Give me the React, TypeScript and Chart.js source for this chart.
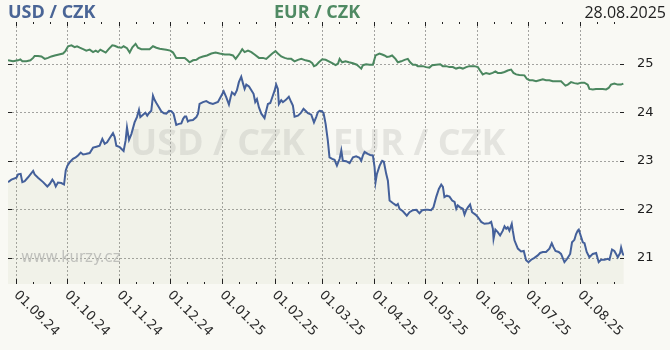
import React, { useEffect, useRef } from "react";
import { Chart, registerables } from "chart.js";
Chart.register(...registerables);

// x values are day offsets from 01.09.2024
const monthLabels = ["01.09.24", "01.10.24", "01.11.24", "01.12.24", "01.01.25", "01.02.25", "01.03.25", "01.04.25", "01.05.25", "01.06.25", "01.07.25", "01.08.25"];
const yTicks = [21, 22, 23, 24, 25];
const xMin = -5;
const xMax = 360;
const yMin = 20.46;
const yMax = 25.86;
const titleLeft = "USD / CZK";
const titleMid = "EUR / CZK";
const dateLabel = "28.08.2025";
const siteLabel = "www.kurzy.cz";

const usdDays = [-5, -3, 0, 1, 2.5, 3.5, 4.9, 6.9, 9.9, 10.8, 12.8, 15.8, 18.3, 19.7, 21.3, 22.3, 23.3, 24.6, 26.6, 28.2, 29.2, 30.2, 31.6, 33.5, 35.1, 36.5, 38.1, 39.5, 41.0, 43.4, 45.4, 47.4, 49.3, 50.9, 52.3, 53.7, 55.3, 57.2, 58.2, 59.2, 61.2, 63.5, 64.7, 65.5, 66.7, 68.1, 70.0, 71.4, 72.6, 73.4, 75.0, 76.4, 77.5, 78.5, 79.9, 80.9, 81.9, 82.9, 84.5, 85.8, 87.4, 88.8, 90.4, 91.8, 93.1, 94.7, 96.3, 97.7, 98.7, 99.7, 100.6, 101.6, 102.6, 104.6, 106.6, 107.6, 108.5, 110.5, 112.5, 114.5, 116.4, 119.4, 121.4, 122.8, 124.3, 125.9, 126.9, 127.7, 129.3, 130.6, 131.8, 133.2, 134.2, 135.2, 136.2, 137.8, 139.1, 140.5, 141.5, 142.5, 143.7, 145.1, 147.0, 148.0, 149.0, 150.4, 151.6, 153.0, 153.9, 154.9, 155.5, 156.9, 157.9, 159.5, 161.4, 162.8, 163.8, 164.8, 166.8, 168.4, 170.1, 171.3, 172.7, 174.7, 176.3, 177.6, 178.6, 179.6, 181.0, 182.0, 183.2, 184.5, 185.5, 187.1, 188.5, 189.9, 191.5, 192.5, 193.4, 195.4, 197.4, 199.4, 201.3, 203.3, 204.3, 205.3, 206.3, 208.2, 209.6, 211.2, 212.2, 212.8, 213.6, 215.2, 216.7, 217.7, 219.1, 220.1, 221.1, 223.0, 225.0, 226.0, 227.0, 229.0, 231.3, 232.9, 234.9, 236.9, 238.8, 240.4, 242.4, 243.8, 245.7, 247.1, 248.7, 250.3, 251.7, 252.7, 253.6, 255.0, 256.6, 258.2, 259.6, 260.6, 261.5, 262.9, 264.5, 265.5, 266.5, 267.5, 268.8, 270.0, 272.0, 273.4, 275.4, 277.3, 279.9, 281.3, 282.3, 282.7, 283.8, 285.2, 286.6, 288.2, 289.2, 290.2, 291.1, 292.1, 293.5, 294.1, 295.1, 297.1, 299.0, 300.6, 302.0, 303.4, 305.0, 306.9, 308.9, 310.3, 311.9, 313.8, 315.8, 317.2, 318.2, 319.4, 321.3, 322.7, 324.7, 326.1, 328.1, 329.2, 330.6, 331.6, 332.6, 333.2, 334.6, 335.6, 336.6, 337.9, 339.5, 341.5, 343.5, 345.0, 346.4, 348.4, 350.4, 351.4, 352.9, 354.3, 355.3, 356.3, 357.7, 358.3, 359.3, 359.9];
const usdRates = [22.56, 22.61, 22.65, 22.72, 22.73, 22.56, 22.58, 22.66, 22.79, 22.72, 22.65, 22.56, 22.47, 22.52, 22.61, 22.56, 22.47, 22.55, 22.54, 22.51, 22.80, 22.90, 22.97, 23.04, 23.07, 23.11, 23.17, 23.13, 23.14, 23.16, 23.27, 23.29, 23.31, 23.45, 23.35, 23.38, 23.47, 23.57, 23.49, 23.31, 23.28, 23.20, 23.42, 23.69, 23.43, 23.55, 23.79, 23.90, 24.05, 23.90, 23.95, 23.99, 23.93, 23.98, 24.03, 24.34, 24.25, 24.19, 24.10, 24.02, 23.98, 23.97, 24.03, 24.02, 23.97, 23.74, 23.76, 23.77, 23.86, 23.91, 23.91, 23.81, 23.83, 23.84, 23.90, 23.97, 24.17, 24.21, 24.23, 24.19, 24.17, 24.21, 24.34, 24.43, 24.31, 24.16, 24.31, 24.41, 24.36, 24.45, 24.62, 24.73, 24.60, 24.48, 24.57, 24.53, 24.46, 24.38, 24.21, 24.27, 24.10, 23.97, 23.88, 24.03, 24.17, 24.19, 24.31, 24.45, 24.57, 24.48, 24.17, 24.25, 24.21, 24.25, 24.32, 24.21, 24.14, 23.91, 23.93, 23.98, 24.07, 24.03, 23.98, 23.95, 23.79, 23.90, 24.00, 24.03, 24.02, 23.98, 23.76, 23.42, 23.07, 23.04, 23.02, 22.90, 23.04, 23.21, 23.00, 22.99, 22.95, 23.07, 23.09, 23.06, 23.00, 23.11, 23.18, 23.14, 23.12, 23.11, 22.87, 22.56, 22.73, 22.90, 23.00, 22.98, 22.73, 22.59, 22.18, 22.13, 22.08, 22.11, 22.01, 21.96, 21.87, 21.94, 21.98, 21.99, 21.92, 21.98, 21.99, 21.99, 21.98, 22.04, 22.25, 22.42, 22.51, 22.46, 22.25, 22.28, 22.26, 22.18, 22.15, 22.01, 22.08, 22.04, 22.01, 21.89, 21.98, 22.04, 22.10, 21.94, 21.89, 21.84, 21.74, 21.70, 21.71, 21.74, 21.60, 21.39, 21.58, 21.53, 21.46, 21.56, 21.65, 21.60, 21.63, 21.56, 21.70, 21.56, 21.36, 21.19, 21.13, 21.14, 20.95, 20.91, 20.96, 21.00, 21.05, 21.10, 21.12, 21.12, 21.19, 21.30, 21.22, 21.14, 21.12, 21.08, 20.91, 20.97, 21.08, 21.32, 21.37, 21.49, 21.56, 21.58, 21.43, 21.32, 21.30, 21.12, 21.01, 21.08, 21.10, 20.91, 20.96, 20.96, 20.98, 20.96, 21.17, 21.14, 21.08, 21.01, 21.10, 21.21, 21.08, 21.05];

const eurDays = [-5, -2, 1, 2.3, 3.5, 5.9, 8.3, 9.9, 10.8, 12.8, 14.8, 16.8, 18.7, 20.7, 22.7, 25.2, 27.6, 29.0, 30.6, 32.6, 34.5, 35.9, 37.5, 39.5, 41.4, 43.4, 45.4, 47.0, 48.3, 49.7, 51.3, 52.9, 54.9, 56.8, 58.2, 60.2, 62.2, 63.5, 65.5, 67.1, 68.7, 70.6, 72.0, 74.0, 77.0, 78.9, 80.9, 82.9, 84.9, 86.8, 88.8, 91.2, 92.8, 94.7, 97.7, 99.7, 101.0, 102.6, 104.6, 106.6, 108.2, 110.5, 112.9, 115.5, 118.0, 120.4, 123.4, 126.3, 128.3, 129.9, 131.2, 132.6, 133.8, 135.2, 137.2, 139.2, 141.1, 143.7, 146.1, 148.0, 149.6, 151.6, 153.5, 154.9, 156.9, 158.9, 160.9, 162.8, 164.8, 166.8, 168.8, 171.3, 173.7, 175.3, 176.3, 177.6, 179.2, 181.2, 183.2, 185.1, 187.1, 189.1, 190.5, 191.5, 193.0, 195.0, 197.0, 199.4, 201.7, 203.3, 204.3, 205.3, 207.2, 209.2, 211.2, 212.8, 215.1, 216.7, 218.1, 219.5, 221.1, 222.6, 224.6, 226.0, 228.0, 230.0, 231.9, 233.3, 234.9, 236.5, 237.8, 240.8, 242.8, 244.7, 246.3, 248.7, 251.1, 252.6, 254.6, 256.6, 258.6, 260.5, 262.5, 264.5, 266.5, 268.4, 271.4, 273.4, 274.7, 276.3, 278.3, 280.3, 282.2, 283.8, 285.2, 287.2, 289.2, 291.1, 293.1, 294.5, 296.1, 298.0, 301.0, 302.4, 304.0, 305.9, 307.9, 309.9, 311.9, 313.8, 315.8, 317.8, 320.7, 322.7, 324.1, 325.3, 326.7, 328.6, 330.6, 332.6, 334.6, 336.5, 338.5, 339.5, 341.5, 343.4, 345.4, 347.4, 349.4, 350.9, 352.3, 354.3, 356.3, 358.2, 359.6];
const eurRates = [25.07, 25.05, 25.07, 25.09, 25.05, 25.05, 25.07, 25.12, 25.16, 25.16, 25.15, 25.10, 25.12, 25.15, 25.17, 25.19, 25.21, 25.26, 25.36, 25.38, 25.34, 25.36, 25.33, 25.30, 25.27, 25.29, 25.24, 25.27, 25.24, 25.29, 25.26, 25.23, 25.31, 25.38, 25.37, 25.34, 25.33, 25.36, 25.32, 25.23, 25.34, 25.41, 25.33, 25.30, 25.30, 25.30, 25.36, 25.33, 25.31, 25.30, 25.29, 25.27, 25.23, 25.12, 25.12, 25.12, 25.08, 25.03, 25.07, 25.08, 25.12, 25.15, 25.17, 25.21, 25.23, 25.21, 25.19, 25.19, 25.17, 25.10, 25.16, 25.23, 25.30, 25.24, 25.27, 25.24, 25.19, 25.12, 25.12, 25.10, 25.15, 25.21, 25.26, 25.21, 25.15, 25.12, 25.10, 25.10, 25.05, 25.08, 25.10, 25.07, 25.05, 25.01, 24.95, 24.97, 25.03, 25.09, 25.08, 25.05, 25.01, 24.97, 25.00, 25.10, 25.03, 25.05, 25.03, 25.01, 24.98, 24.93, 24.90, 24.97, 24.99, 24.98, 24.98, 25.17, 25.21, 25.19, 25.17, 25.14, 25.15, 25.17, 25.10, 25.03, 25.05, 25.08, 25.10, 25.03, 24.98, 24.98, 24.95, 24.95, 24.93, 24.92, 24.97, 24.98, 24.99, 24.95, 24.95, 24.93, 24.93, 24.90, 24.92, 24.90, 24.93, 24.95, 24.95, 24.93, 24.86, 24.78, 24.81, 24.79, 24.81, 24.84, 24.81, 24.81, 24.83, 24.86, 24.88, 24.81, 24.78, 24.77, 24.76, 24.69, 24.66, 24.66, 24.64, 24.66, 24.68, 24.66, 24.66, 24.64, 24.64, 24.64, 24.59, 24.55, 24.57, 24.62, 24.60, 24.59, 24.61, 24.61, 24.57, 24.48, 24.47, 24.48, 24.48, 24.48, 24.47, 24.50, 24.57, 24.59, 24.57, 24.57, 24.59];

const BG = "#f9f9f4";
const BLUE = "#44609a";
const GREEN = "#4b875f";
const DAY_MS = 86400000;
const ORIGIN = Date.UTC(2024, 8, 1);

function labelToDay(label: string): number {
  const [d, m, y] = label.split(".").map(Number);
  return Math.round((Date.UTC(2000 + y, m - 1, d) - ORIGIN) / DAY_MS);
}

const monthDays = monthLabels.map(labelToDay);
const minorDays: number[] = [];
monthLabels.forEach((l) => {
  const [, m, y] = l.split(".").map(Number);
  [11, 21].forEach((dd) => {
    const v = Math.round((Date.UTC(2000 + y, m - 1, dd) - ORIGIN) / DAY_MS);
    if (v >= xMin && v <= xMax) minorDays.push(v);
  });
});

const decorPlugin = {
  id: "decor",
  beforeDatasetsDraw(chart: any) {
    const { ctx, chartArea: a, scales } = chart;
    const x = scales.x;
    const y = scales.y;
    ctx.save();
    // grid
    ctx.strokeStyle = "#a3a3a0";
    ctx.lineWidth = 1;
    ctx.setLineDash([2, 2]);
    monthDays.forEach((d) => {
      const px = Math.round(x.getPixelForValue(d)) + 0.5;
      ctx.beginPath();
      ctx.moveTo(px, a.top);
      ctx.lineTo(px, a.bottom);
      ctx.stroke();
    });
    yTicks.forEach((v) => {
      const py = Math.round(y.getPixelForValue(v)) + 0.5;
      ctx.beginPath();
      ctx.moveTo(a.left, py);
      ctx.lineTo(a.right, py);
      ctx.stroke();
    });
    ctx.setLineDash([]);
    // watermark
    const cx = (a.left + a.right) / 2;
    ctx.font = 'bold 36px "Open Sans"';
    ctx.fillStyle = "rgba(178,178,175,0.3)";
    ctx.textBaseline = "alphabetic";
    ctx.textAlign = "right";
    ctx.fillText(titleLeft, cx - 11, 155);
    ctx.textAlign = "left";
    ctx.fillText(titleMid, cx + 17, 155);
    // site
    ctx.font = '15px "DejaVu Sans"';
    ctx.fillStyle = "rgba(190,190,190,0.9)";
    ctx.fillText(siteLabel, 21, 262);
    ctx.restore();
  },
  afterDraw(chart: any) {
    const { ctx, chartArea: a, scales } = chart;
    const x = scales.x;
    const y = scales.y;
    ctx.save();
    ctx.strokeStyle = "#222";
    ctx.lineWidth = 1;
    // top/bottom ticks
    monthDays.forEach((d) => {
      const px = Math.round(x.getPixelForValue(d)) + 0.5;
      ctx.beginPath();
      ctx.moveTo(px, a.top);
      ctx.lineTo(px, a.top + 4);
      ctx.moveTo(px, a.bottom);
      ctx.lineTo(px, a.bottom - 5);
      ctx.stroke();
    });
    minorDays.forEach((d) => {
      const px = Math.round(x.getPixelForValue(d)) + 0.5;
      ctx.beginPath();
      ctx.moveTo(px, a.top);
      ctx.lineTo(px, a.top + 2);
      ctx.moveTo(px, a.bottom);
      ctx.lineTo(px, a.bottom - 2);
      ctx.stroke();
    });
    yTicks.forEach((v) => {
      const py = Math.round(y.getPixelForValue(v)) + 0.5;
      ctx.beginPath();
      ctx.moveTo(a.left, py);
      ctx.lineTo(a.left + 4, py);
      ctx.moveTo(a.right, py);
      ctx.lineTo(a.right - 4, py);
      ctx.stroke();
    });
    // y labels
    ctx.fillStyle = "#1e1e1e";
    ctx.font = '13px "DejaVu Sans"';
    ctx.textAlign = "left";
    ctx.textBaseline = "middle";
    yTicks.forEach((v) => {
      ctx.fillText(String(v), 637, y.getPixelForValue(v));
    });
    // x labels rotated
    ctx.font = '13px "DejaVu Sans"';
    ctx.fillStyle = "#2a2a2a";
    monthDays.forEach((d, i) => {
      const px = x.getPixelForValue(d);
      ctx.save();
      ctx.translate(px - 0.5, a.bottom + 9);
      ctx.rotate(Math.PI / 4);
      ctx.textAlign = "left";
      ctx.textBaseline = "middle";
      ctx.fillText(monthLabels[i], 0, 0);
      ctx.restore();
    });
    // header
    ctx.textBaseline = "alphabetic";
    ctx.font = 'bold 18px "Open Sans"';
    ctx.fillStyle = "#4a6596";
    ctx.textAlign = "left";
    ctx.fillText(titleLeft, 8, 17.5);
    ctx.fillStyle = "#4f8a63";
    ctx.fillText(titleMid, 274, 17.5);
    ctx.font = '16px "Open Sans"';
    ctx.fillStyle = "#222";
    ctx.textAlign = "right";
    ctx.fillText(dateLabel, 666, 17.5);
    ctx.restore();
  },
};

export default function App() {
  const ref = useRef<HTMLCanvasElement | null>(null);
  useEffect(() => {
    document.body.style.margin = "0";
    document.body.style.background = BG;
    const canvas = ref.current;
    if (!canvas) return;
    const chart = new Chart(canvas, {
      type: "line",
      data: {
        datasets: [
          {
            label: "USD / CZK",
            data: usdDays.map((d, i) => ({ x: d, y: usdRates[i] })),
            borderColor: BLUE,
            borderWidth: 2,
            backgroundColor: "rgba(150,160,110,0.08)",
            fill: "start",
            pointRadius: 0,
            tension: 0,
          },
          {
            label: "EUR / CZK",
            data: eurDays.map((d, i) => ({ x: d, y: eurRates[i] })),
            borderColor: GREEN,
            borderWidth: 2,
            fill: false,
            pointRadius: 0,
            tension: 0,
          },
        ],
      },
      options: {
        animation: false,
        responsive: false,
        maintainAspectRatio: false,
        devicePixelRatio: 1,
        layout: { padding: { left: 8, right: 46, top: 22, bottom: 66 } },
        plugins: { legend: { display: false }, tooltip: { enabled: false } },
        events: [],
        scales: {
          x: { type: "linear", min: xMin, max: xMax, display: false },
          y: { type: "linear", min: yMin, max: yMax, display: false },
        },
      },
      plugins: [decorPlugin],
    });
    return () => chart.destroy();
  }, []);
  return (
    <div style={{ position: "fixed", left: 0, top: 0, width: 670, height: 350, background: BG }}>
      <canvas ref={ref} width={670} height={350} style={{ display: "block", width: 670, height: 350 }} />
    </div>
  );
}
